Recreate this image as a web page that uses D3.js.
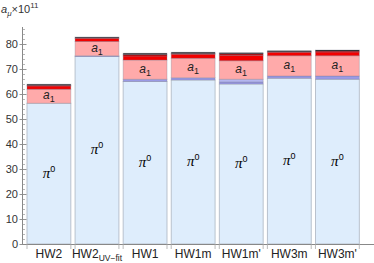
<!DOCTYPE html>
<html>
<head>
<meta charset="utf-8">
<script src="https://cdn.jsdelivr.net/npm/d3@7"></script>
<style>
  body { margin: 0; background: #fff; }
  svg { display: block; font-family: "Liberation Sans", Arial, sans-serif; }
</style>
</head>
<body>
<div id="chart"></div>
<script>
// categories along x
const models = ["HW2", "HW2UV", "HW1", "HW1m", "HW1m'", "HW3m", "HW3m'"];

// stacked contributions (segment sizes, a_mu x 10^11)
const pi0     = [56.3, 75.0, 65.0, 65.6, 64.0, 66.3, 65.9];
const eta     = [0.0,  0.3,  0.9,  0.9,  0.8,  0.9,  1.3];
const etap    = [0.0,  0.0,  0.0,  0.0,  1.1,  0.0,  0.0];
const a1      = [5.6,  5.7,  7.7,  7.8,  7.4,  8.1,  8.1];
const redPart = [1.3,  1.2,  1.6,  1.6,  2.2,  1.4,  1.5];
const darkRed = [0.3,  0.3,  0.6,  0.3,  0.6,  0.2,  0.4];
const blackPart = [0.4, 0.3, 0.5,  0.5,  0.4,  0.4,  0.4];

const yTicks = [0, 10, 20, 30, 40, 50, 60, 70, 80];

const keys = ["pi0", "eta", "etap", "a1", "red", "dark", "black"];
const colors = {
  pi0: "#deedfc", eta: "#9a9ae6", etap: "#b4b6f0", a1: "#ffaaaa",
  red: "#f20000", dark: "#b30000", black: "#111111"
};

const rows = models.map((m, i) => ({
  model: m, pi0: pi0[i], eta: eta[i], etap: etap[i], a1: a1[i],
  red: redPart[i], dark: darkRed[i], black: blackPart[i]
}));

const W = 374, H = 263;
const svg = d3.select("#chart").append("svg")
  .attr("width", W).attr("height", H);

const x = d3.scaleBand().domain(models).range([27, 359.3])
  .paddingInner(0.088).paddingOuter(0);
const y = d3.scaleLinear().domain([0, 80]).range([244, 44]);

const series = d3.stack().keys(keys)(rows);

// bars
const g = svg.append("g");
series.forEach(s => {
  g.append("g").selectAll("rect")
    .data(s.filter(d => d[1] - d[0] > 0))
    .enter().append("rect")
      .attr("x", d => x(d.data.model))
      .attr("width", x.bandwidth())
      .attr("y", d => y(d[1]))
      .attr("height", d => y(d[0]) - y(d[1]))
      .style("fill", colors[s.key])
      .style("stroke", s.key === "pi0" ? "#b3bcc8" : "rgba(120,120,140,0.35)")
      .style("stroke-width", 0.9);
});

// pi0 labels
svg.append("g").selectAll("text")
  .data(rows).enter().append("text")
    .attr("x", d => x(d.model) + x.bandwidth() / 2)
    .attr("y", d => y(d.pi0 / 2) + 4)
    .attr("text-anchor", "middle")
    .style("font-family", "'Liberation Serif', serif")
    .style("font-size", "15px")
    .each(function() {
      const t = d3.select(this);
      t.append("tspan").style("font-style", "italic").text("\u03c0");
      t.append("tspan").attr("dy", -6).style("font-size", "9px")
        .style("font-family", "'Liberation Sans', sans-serif").text("0");
    });

// a1 labels
svg.append("g").selectAll("text")
  .data(rows).enter().append("text")
    .attr("x", d => x(d.model) + x.bandwidth() / 2)
    .attr("y", d => y(d.pi0 + d.eta + d.etap + d.a1 / 2) + 3)
    .attr("text-anchor", "middle")
    .style("font-size", "12px")
    .style("fill", "#222")
    .each(function() {
      const t = d3.select(this);
      t.append("tspan").style("font-style", "italic").text("a");
      t.append("tspan").attr("dy", 3).style("font-size", "9px").text("1");
    });

// y axis
const ax = 22.5;
svg.append("line")
  .attr("x1", ax).attr("x2", ax).attr("y1", 244).attr("y2", 27)
  .style("stroke", "#888").style("stroke-width", 1);
const minor = d3.range(0, 88, 2).filter(v => v % 10 !== 0);
svg.append("g").selectAll("line").data(minor).enter().append("line")
  .attr("x1", ax).attr("x2", ax + 2.5)
  .attr("y1", d => y(d) + 0.5).attr("y2", d => y(d) + 0.5)
  .style("stroke", "#999").style("stroke-width", 0.7);
svg.append("g").selectAll("line").data(yTicks).enter().append("line")
  .attr("x1", ax - 3).attr("x2", ax + 4)
  .attr("y1", d => y(d) + 0.5).attr("y2", d => y(d) + 0.5)
  .style("stroke", "#888").style("stroke-width", 0.9);
svg.append("g").selectAll("text").data(yTicks).enter().append("text")
  .attr("x", ax - 4.5).attr("y", d => y(d) + 4)
  .attr("text-anchor", "end")
  .style("font-size", "11px").style("fill", "#333")
  .text(d => d);

// x axis
svg.append("line")
  .attr("x1", ax).attr("x2", 374).attr("y1", 244.5).attr("y2", 244.5)
  .style("stroke", "#888").style("stroke-width", 1);
const edges = [];
models.forEach(m => { edges.push(x(m)); edges.push(x(m) + x.bandwidth()); });
svg.append("g").selectAll("line").data(edges).enter().append("line")
  .attr("x1", d => d).attr("x2", d => d).attr("y1", 244).attr("y2", 249)
  .style("stroke", "#aaa").style("stroke-width", 0.8);

// category labels
svg.append("g").selectAll("text").data(models).enter().append("text")
  .attr("x", d => x(d) + x.bandwidth() / 2)
  .attr("y", 258)
  .attr("text-anchor", "middle")
  .style("font-size", "12px").style("fill", "#222")
  .each(function(d) {
    const t = d3.select(this);
    if (d === "HW2UV") {
      t.append("tspan").text("HW2");
      t.append("tspan").attr("dy", 3).style("font-size", "8.5px").text("UV\u2212fit");
    } else {
      t.text(d);
    }
  });

// axis title
const title = svg.append("text").attr("x", 1).attr("y", 13)
  .style("font-size", "11px").style("fill", "#333");
title.append("tspan").style("font-style", "italic").text("a");
title.append("tspan").attr("dy", 3).style("font-size", "8px").style("font-style", "italic").text("\u03bc");
title.append("tspan").attr("dy", -3).text("\u00d710");
title.append("tspan").attr("dy", -5).style("font-size", "8px").text("11");
</script>
</body>
</html>
